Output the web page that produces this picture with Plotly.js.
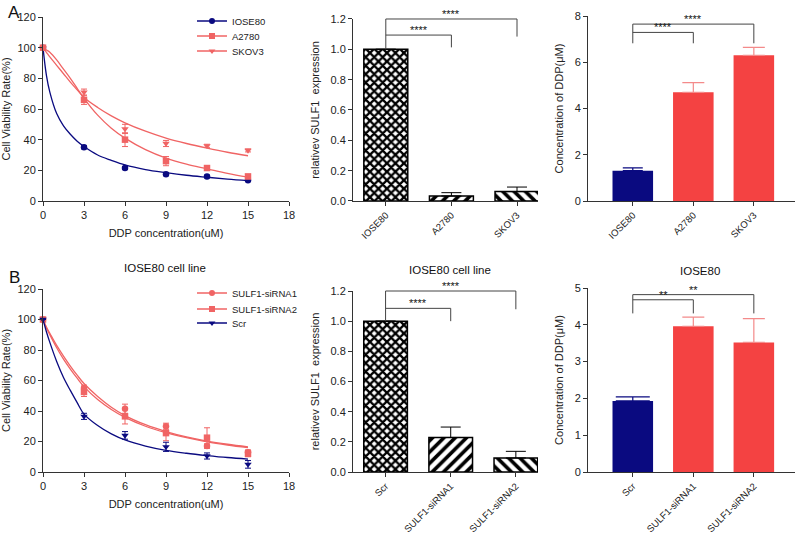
<!DOCTYPE html>
<html><head><meta charset="utf-8">
<script src="https://cdn.plot.ly/plotly-3.0.1.min.js"></script>
<style>html,body{margin:0;padding:0;background:#fff}#chart{width:800px;height:535px}</style>
</head><body><div id="chart"></div>
<script>
// ---------- DATA ----------
const doseX = [0, 3, 6, 9, 12, 15];
const viabIOSE80 = [100, 35, 21.5, 17.5, 16, 13.5];
const errIOSE80  = [0, 1, 1, 1, 0.8, 0.8];
const viabA2780  = [100, 66, 40, 26, 21.5, 16];
const errA2780   = [0, 3, 4.5, 3, 1.5, 1.5];
const viabSKOV3  = [100, 71, 47, 37.5, 36, 33];
const errSKOV3   = [0, 2, 3, 2, 1, 1];

const fitX = [0, 0.25, 0.5, 1, 1.5, 2, 2.5, 3, 4, 5, 6, 7.5, 9, 10.5, 12, 13.5, 15];
const fitIOSE80 = [100, 82, 71, 57, 49, 43.5, 39, 35.5, 30, 26.5, 23.5, 20.5, 18.5, 16.8, 15.5, 14.3, 13.3];
const fitA2780  = [100, 98.5, 97, 92, 86, 80, 73.5, 67, 56, 47.5, 41, 33.5, 28, 24, 21, 18, 15.5];
const fitSKOV3  = [100, 97, 94, 88.5, 83, 77.5, 72.5, 67.5, 61, 55.5, 51, 45.5, 41, 37.5, 34.5, 31.8, 29.5];

const viabSi1 = [100, 55, 41.5, 30, 17, 13];
const errSi1  = [0, 2, 3, 2, 1.5, 1.5];
const viabSi2 = [100, 52.5, 36.5, 25.5, 22.5, 12];
const errSi2  = [0, 3, 5, 5, 6.5, 2];
const viabScr = [100, 36.5, 24, 16.5, 10.5, 5];
const errScr  = [0, 2, 2.5, 3, 2, 2.5];
const fitSi1 = [100, 95, 91, 83, 76, 69.5, 63.5, 58, 49.5, 42.5, 37, 31, 26.5, 23, 20.3, 18.2, 16.5];
const fitSi2 = [100, 94.5, 90, 81.5, 74, 67.5, 61.5, 56, 47.5, 41, 35.8, 30, 25.8, 22.5, 19.8, 17.7, 16];
const fitScr = [100, 92, 85, 72.5, 62, 53.5, 45.5, 38, 30.5, 25, 21, 17, 14.2, 12.3, 10.8, 9.5, 8.5];

const catsA = ['IOSE80', 'A2780', 'SKOV3'];
const relSULF1A = [1.0, 0.033, 0.062];
const relErrA   = [0, 0.022, 0.03];
const ic50A     = [1.31, 4.70, 6.30];
const ic50ErrA  = [0.12, 0.42, 0.34];

const catsB = ['Scr', 'SULF1-siRNA1', 'SULF1-siRNA2'];
const relSULF1B = [1.0, 0.229, 0.093];
const relErrB   = [0, 0.069, 0.044];
const ic50B     = [1.93, 3.96, 3.52];
const ic50ErrB  = [0.11, 0.25, 0.65];

// ---------- STYLE ----------
const NAVY = '#0a0a80', RED = '#f44242', REDL = '#f06464', REDERR = '#f48a8a';
const FONT = 'Liberation Sans, Arial, sans-serif';
const AX = '#333';

const dom = {
  xA1: [0.05375, 0.36125], xA2: [0.44125, 0.6725], xA3: [0.735, 0.99375],
  yA1: [0.6243, 0.96822], yA2: [0.6243, 0.96449], yA3: [0.6243, 0.97009],
  yB1: [0.11776, 0.45981], yB2: [0.11776, 0.45607], yB3: [0.11776, 0.46168]
};

const traces = [];
function curveSet(xa, ya, fit, pts, err, color, symbol, name, legendId) {
  traces.push({x: fitX, y: fit, xaxis: xa, yaxis: ya, mode: 'lines', type: 'scatter',
    line: {color: color, width: 1.3, shape: 'spline'}, showlegend: false, hoverinfo: 'skip', cliponaxis: false});
  traces.push({x: doseX, y: pts, xaxis: xa, yaxis: ya, mode: 'markers', type: 'scatter',
    marker: {color: color, symbol: symbol, size: 6.5}, showlegend: false, cliponaxis: false,
    error_y: {type: 'data', array: err, visible: true, color: color, thickness: 1, width: 3}});
  traces.push({x: [null], y: [null], xaxis: xa, yaxis: ya, mode: 'lines+markers', type: 'scatter',
    name: name, legend: legendId, line: {color: color, width: 1.3}, marker: {color: color, symbol: symbol, size: 6}});
}
curveSet('x', 'y', fitIOSE80, viabIOSE80, errIOSE80, NAVY, 'circle', 'IOSE80', 'legend');
curveSet('x', 'y', fitA2780, viabA2780, errA2780, REDL, 'square', 'A2780', 'legend2');
curveSet('x', 'y', fitSKOV3, viabSKOV3, errSKOV3, REDL, 'triangle-down', 'SKOV3', 'legend3');
curveSet('x4', 'y4', fitSi1, viabSi1, errSi1, REDL, 'circle', 'SULF1-siRNA1', 'legend4');
curveSet('x4', 'y4', fitSi2, viabSi2, errSi2, REDL, 'square', 'SULF1-siRNA2', 'legend5');
curveSet('x4', 'y4', fitScr, viabScr, errScr, NAVY, 'triangle-down', 'Scr', 'legend6');

function patternBars(xa, ya, cats, vals, errs) {
  traces.push({type: 'bar', x: cats, y: vals, xaxis: xa, yaxis: ya, showlegend: false,
    marker: {color: 'black', line: {color: 'black', width: 1.5},
      pattern: {shape: ['x', '/', '\\'], bgcolor: ['white', 'white', 'white'], fgcolor: ['black', 'black', 'black'],
        size: [6, 8, 8], solidity: [0.62, 0.45, 0.45], fillmode: 'replace'}},
    error_y: {type: 'data', symmetric: false, array: errs, arrayminus: [0, 0, 0], color: 'black', thickness: 1, width: 10}});
}
patternBars('x2', 'y2', catsA, relSULF1A, relErrA);
patternBars('x5', 'y5', catsB, relSULF1B, relErrB);

function colorBars(xa, ya, cats, vals, errs, navyCap) {
  traces.push({type: 'bar', x: cats.slice(0, 1), y: vals.slice(0, 1), xaxis: xa, yaxis: ya, showlegend: false,
    marker: {color: NAVY, line: {width: 0}},
    error_y: {type: 'data', symmetric: false, array: errs.slice(0, 1), arrayminus: [0], color: NAVY, thickness: 1.2, width: navyCap}});
  traces.push({type: 'bar', x: cats.slice(1), y: vals.slice(1), xaxis: xa, yaxis: ya, showlegend: false,
    marker: {color: RED, line: {width: 0}},
    error_y: {type: 'data', symmetric: false, array: errs.slice(1), arrayminus: [0, 0], color: REDERR, thickness: 1.2, width: 11}});
}
colorBars('x3', 'y3', catsA, ic50A, ic50ErrA, 10);
colorBars('x6', 'y6', catsB, ic50B, ic50ErrB, 17);

// ---------- LAYOUT ----------
const tickFont = {family: FONT, size: 11, color: '#222'};
const titleFont = {family: FONT, size: 11, color: '#222'};
function xLin(d) {
  return {domain: d, range: [0, 18], dtick: 3, tick0: 0, showline: true, linecolor: AX, linewidth: 1,
    ticks: 'outside', ticklen: 4, tickcolor: AX, showgrid: false, zeroline: false, tickfont: tickFont,
    title: {text: 'DDP concentration(uM)', font: titleFont, standoff: 9}};
}
function yAx(d, r, dt, fmt, title, anchor) {
  return {domain: d, range: r, dtick: dt, tick0: 0, tickformat: fmt, showline: true, linecolor: AX, linewidth: 1,
    ticks: 'outside', ticklen: 4, tickcolor: AX, showgrid: false, zeroline: false, tickfont: tickFont,
    anchor: anchor, title: {text: title, font: titleFont, standoff: 8}};
}
function xCat(d, r, anchor) {
  return {domain: d, range: r, showline: true, linecolor: AX, linewidth: 1, ticks: 'outside', ticklen: 4,
    tickcolor: AX, showgrid: false, zeroline: false, tickangle: -45, anchor: anchor,
    tickfont: {family: FONT, size: 9.5, color: '#222'}};
}

const layout = {
  width: 800, height: 535, margin: {l: 0, r: 0, t: 0, b: 0},
  paper_bgcolor: 'white', plot_bgcolor: 'rgba(0,0,0,0)', font: {family: FONT},
  barmode: 'overlay', bargap: 0.33,
  xaxis: Object.assign(xLin(dom.xA1), {anchor: 'y'}),
  yaxis: yAx(dom.yA1, [0, 120], 20, '', 'Cell Viability Rate(%)', 'x'),
  xaxis2: xCat(dom.xA2, [-0.5, 2.32], 'y2'),
  yaxis2: yAx(dom.yA2, [0, 1.2], 0.2, '.1f', 'relativev SULF1  expression', 'x2'),
  xaxis3: xCat(dom.xA3, [-0.74, 2.68], 'y3'),
  yaxis3: yAx(dom.yA3, [0, 8], 2, '', 'Concentration of DDP(μM)', 'x3'),
  xaxis4: Object.assign(xLin(dom.xA1), {anchor: 'y4'}),
  yaxis4: yAx(dom.yB1, [0, 120], 20, '', 'Cell Viability Rate(%)', 'x4'),
  xaxis5: xCat(dom.xA2, [-0.5, 2.34], 'y5'),
  yaxis5: yAx(dom.yB2, [0, 1.2], 0.2, '.1f', 'relativev SULF1  expression', 'x5'),
  xaxis6: xCat(dom.xA3, [-0.74, 2.68], 'y6'),
  yaxis6: yAx(dom.yB3, [0, 5], 1, '', 'Concentration of DDP(μM)', 'x6'),
  shapes: [], annotations: []
};

// legends: one per entry for exact row placement
const legRows = [['legend', 21], ['legend2', 36], ['legend3', 51], ['legend4', 293], ['legend5', 309], ['legend6', 323]];
legRows.forEach(([id, py]) => {
  layout[id] = {x: 192 / 800, y: 1 - py / 535, xanchor: 'left', yanchor: 'middle', bgcolor: 'rgba(0,0,0,0)',
    font: {family: FONT, size: 9.5, color: '#222'}, borderwidth: 0, itemwidth: 30};
});

// significance brackets (yref paper to avoid clipping)
function py(d, r, v) { return d[0] + (v / r) * (d[1] - d[0]); }
function seg(xa, x0, x1, y0, y1) {
  layout.shapes.push({type: 'line', xref: xa, yref: 'paper', x0: x0, x1: x1, y0: y0, y1: y1,
    line: {color: '#444', width: 1}});
}
function brackets(xa, d, r, leftBase, inner, innerDrop, outer, outerDrop, label) {
  seg(xa, 0, 0, py(d, r, leftBase), py(d, r, outer));
  seg(xa, 0, 1, py(d, r, inner), py(d, r, inner));
  seg(xa, 1, 1, py(d, r, inner), py(d, r, innerDrop));
  seg(xa, 0, 2, py(d, r, outer), py(d, r, outer));
  seg(xa, 2, 2, py(d, r, outer), py(d, r, outerDrop));
  [[0.5, inner], [1, outer]].forEach(([cx, v]) => {
    layout.annotations.push({xref: xa, yref: 'paper', x: cx, y: py(d, r, v), yanchor: 'bottom', yshift: -3,
      text: label, showarrow: false, font: {family: FONT, size: 11, color: '#111'}});
  });
}
brackets('x2', dom.yA2, 1.2, 1.0, 1.094, 1.013, 1.2, 1.084, '****');
brackets('x3', dom.yA3, 8, 6.82, 7.29, 6.82, 7.65, 6.82, '****');
brackets('x5', dom.yB2, 1.2, 1.0, 1.085, 1.0, 1.2, 1.079, '****');
brackets('x6', dom.yB3, 5, 4.31, 4.68, 4.31, 4.82, 4.31, '**');

// panel letters and titles
function txt(x, y, text, size) {
  layout.annotations.push({xref: 'paper', yref: 'paper', x: x / 800, y: 1 - y / 535, text: text, showarrow: false,
    xanchor: 'center', yanchor: 'middle', font: {family: FONT, size: size, color: '#111'}});
}
txt(14, 12, 'A', 17);
txt(14, 277, 'B', 17);
txt(165, 268, 'IOSE80 cell line', 11.5);
txt(450, 270, 'IOSE80 cell line', 11.5);
txt(700, 271, 'IOSE80', 11.5);

Plotly.newPlot('chart', traces, layout, {staticPlot: true});
</script></body></html>
